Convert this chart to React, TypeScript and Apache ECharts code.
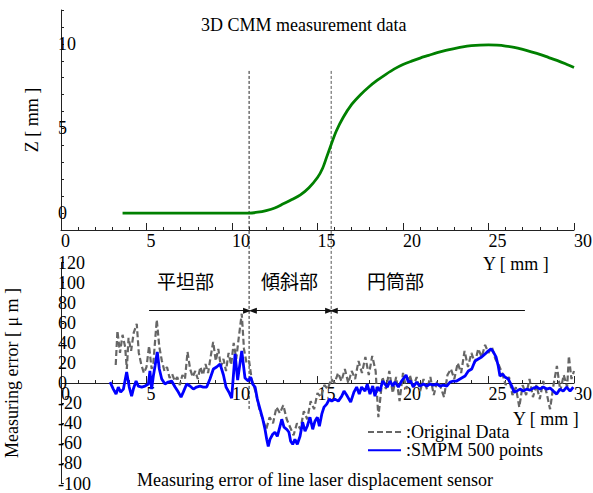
import React, { useEffect, useRef } from "react";
import * as echarts from "echarts";

// ---- Data ----
const cmmY = [3.6, 5, 7, 9, 10, 11, 11.5, 12, 12.5, 13, 13.5, 14, 14.5, 15, 15.3, 15.55, 15.8, 16.1, 16.5, 17, 17.5, 18, 18.5, 19, 19.5, 20, 20.5, 21, 21.5, 22, 22.5, 23, 23.5, 24, 24.5, 25, 25.5, 26, 26.5, 27, 27.5, 28, 28.5, 29, 29.5, 30];
const cmmZ = [0, 0, 0, 0, 0, 0, 0.05, 0.15, 0.3, 0.55, 0.8, 1.08, 1.5, 2.1, 2.65, 3.35, 4.05, 4.85, 5.65, 6.42, 6.98, 7.45, 7.85, 8.2, 8.52, 8.78, 8.98, 9.16, 9.32, 9.48, 9.61, 9.72, 9.82, 9.89, 9.93, 9.94, 9.92, 9.87, 9.79, 9.67, 9.53, 9.38, 9.2, 9.02, 8.82, 8.6];

const origY = [3.2, 3.3, 3.45, 3.6, 3.75, 3.85, 3.95, 4.1, 4.25, 4.43, 4.55, 4.7, 4.85, 5.0, 5.15, 5.3, 5.4, 5.6, 5.75, 5.9, 6.05, 6.2, 6.35, 6.5, 6.65, 6.8, 6.95, 7.1, 7.25, 7.4, 7.55, 7.7, 7.85, 8.0, 8.15, 8.3, 8.45, 8.6, 8.75, 8.9, 9.05, 9.2, 9.35, 9.5, 9.65, 9.8, 9.95, 10.1, 10.25, 10.4, 10.57, 10.7, 10.85, 11.0, 11.15, 11.4, 11.6, 11.8, 12.0, 12.2, 12.4, 12.6, 12.8, 13.0, 13.2, 13.4, 13.6, 13.8, 14.0, 14.2, 14.4, 14.6, 14.8, 15.0, 15.2, 15.4, 15.6, 15.8, 16.0, 16.2, 16.4, 16.6, 16.8, 17.0, 17.2, 17.4, 17.6, 17.8, 18.0, 18.2, 18.4, 18.56, 18.8, 19.0, 19.2, 19.4, 19.6, 19.8, 20.0, 20.2, 20.4, 20.6, 20.8, 21.0, 21.2, 21.4, 21.6, 21.8, 22.0, 22.2, 22.4, 22.6, 22.8, 23.0, 23.2, 23.4, 23.6, 23.8, 24.0, 24.2, 24.4, 24.6, 24.8, 25.0, 25.2, 25.4, 25.6, 25.8, 26.0, 26.2, 26.4, 26.6, 26.8, 27.0, 27.2, 27.4, 27.6, 27.8, 28.0, 28.2, 28.4, 28.6, 28.8, 29.0, 29.2, 29.4, 29.6, 29.7, 29.85, 30.0];
const origErr = [18, 52, 30, 48, 36, 14, 45, 32, 50, 59, 30, 18, 10, 16, 37, 14, 20, 63, 36, 22, 12, 16, 5, 9, 2, 6, -2, 8, 4, 31, 14, 6, 12, 4, 16, 8, 19, 10, 26, 41, 22, 34, 16, 24, 12, 30, 18, 40, 24, 46, 69, 34, 20, 22, 4, -10, -26, -36, -46, -34, -40, -24, -30, -22, -36, -44, -52, -40, -46, -28, -36, -18, -26, -10, -14, -2, -6, 4, 0, 10, 2, 14, 0, 12, 4, 22, 10, 26, 8, 27, 12, -34, 6, -6, 12, -10, 6, -18, 10, -6, 8, -4, 6, -8, 4, -6, 6, -12, 2, -4, -14, 8, 14, 4, 20, 10, 32, 16, 30, 20, 34, 26, 38, 30, 36, 24, 18, 10, -2, 6, -12, -4, -24, -2, -12, 4, -14, -2, -16, 2, -10, -26, -2, 17, -8, 8, -4, 27, 4, 12];

const smpmY = [2.87, 3.06, 3.22, 3.35, 3.49, 3.65, 3.84, 3.99, 4.13, 4.23, 4.39, 4.52, 4.72, 4.91, 5.11, 5.2, 5.3, 5.4, 5.5, 5.63, 5.75, 5.89, 6.08, 6.27, 6.47, 6.67, 6.86, 7.02, 7.15, 7.35, 7.54, 7.74, 7.93, 8.13, 8.32, 8.52, 8.71, 8.91, 9.1, 9.3, 9.5, 9.65, 9.85, 9.98, 10.18, 10.33, 10.57, 10.76, 10.95, 11.09, 11.21, 11.35, 11.48, 11.64, 11.8, 11.93, 12.03, 12.12, 12.22, 12.38, 12.51, 12.65, 12.81, 12.91, 13.04, 13.2, 13.33, 13.43, 13.55, 13.68, 13.82, 13.98, 14.13, 14.27, 14.4, 14.56, 14.72, 14.85, 14.99, 15.11, 15.25, 15.38, 15.54, 15.69, 15.83, 16.02, 16.22, 16.42, 16.55, 16.74, 16.94, 17.13, 17.29, 17.44, 17.58, 17.78, 17.91, 18.07, 18.23, 18.36, 18.5, 18.65, 18.81, 18.95, 19.08, 19.24, 19.4, 19.53, 19.73, 19.92, 20.18, 20.31, 20.45, 20.6, 20.8, 20.99, 21.19, 21.39, 21.58, 21.77, 21.97, 22.16, 22.36, 22.56, 22.75, 22.94, 23.14, 23.33, 23.63, 23.82, 24.02, 24.21, 24.4, 24.6, 24.8, 24.99, 25.15, 25.28, 25.44, 25.57, 25.67, 25.83, 25.96, 26.16, 26.36, 26.49, 26.65, 26.84, 27.04, 27.23, 27.43, 27.62, 27.82, 28.01, 28.2, 28.4, 28.6, 28.79, 28.99, 29.18, 29.37, 29.57, 29.77, 29.96];
const smpmErr = [1, -6, -11, -4, -9, -6, 11, -4, -13, -6, 2, -3, -4, -3, -1, 12, -6, 7, 17, 31, 14, 4, -1, 1, 2, -4, -9, -14, -9, -1, -3, -6, -4, -3, -4, -4, 4, 14, 16, 19, 8, -4, -10, -15, 29, 3, 32, 5, 2, 6, -1, -4, -16, -26, -36, -46, -56, -63, -56, -51, -49, -53, -43, -36, -44, -46, -49, -58, -61, -56, -61, -53, -39, -48, -43, -34, -46, -38, -34, -43, -31, -24, -21, -16, -18, -16, -18, -13, -8, -13, -19, -9, -4, -11, -4, -8, -1, -11, -3, -13, -4, -8, 2, -1, -4, 2, -3, 1, -4, 2, 8, 1, 2, -4, 1, -3, -1, -3, -1, -2, -1, -3, -2, -3, 1, 2, 2, 4, 7, 12, 14, 22, 24, 26, 29, 32, 34, 31, 26, 17, 7, 9, 6, 4, -3, -9, -8, -6, -8, -6, -7, -5, -4, -6, -4, -6, -5, -8, -11, -6, -8, -4, -8, -4];

// section arrows (Y range) at an error level, and section labels
const arrowFrom = [5.15, 11.22, 15.95];
const arrowTo = [10.88, 15.68, 27.13];
const arrowStartSym = ["none", "triangle", "triangle"];
const arrowEndSym = ["triangle", "triangle", "none"];
const arrowLevel = 72;
const sectionNames = ["平坦部", "傾斜部", "円筒部"];
const boundaryY = [11.0, 15.8];

const SERIF = '"Liberation Serif", "Times New Roman", serif';
const CJK = '"Noto Sans CJK JP", "Noto Sans CJK SC", sans-serif';
const AXIS_COLOR = "#222";

export default function App() {
  const ref = useRef<HTMLDivElement>(null);
  useEffect(() => {
    const chart = echarts.init(ref.current!, undefined, { renderer: "svg" });
    const zip = (a: number[], b: number[]) => a.map((v, i) => [v, b[i]]);
    const xAxisBase = (grid: number, show: boolean) => ({
      gridIndex: grid,
      show,
      type: "value",
      min: 0,
      max: 30,
      interval: 5,
      axisLine: { onZero: false, lineStyle: { color: AXIS_COLOR, width: 1 } },
      axisTick: { inside: true, length: 7, lineStyle: { color: AXIS_COLOR } },
      minorTick: { show: true, splitNumber: 5, length: 3, lineStyle: { color: AXIS_COLOR } },
      splitLine: { show: false },
      minorSplitLine: { show: false },
      axisLabel: { align: "left", margin: 2, color: "#000", fontSize: 18, fontFamily: SERIF },
    });
    const option: any = {
      animation: false,
      backgroundColor: "#fff",
      textStyle: { fontFamily: SERIF },
      grid: [
        { left: 61, top: 10, width: 513, height: 220, outerBoundsMode: "none" },
        { left: 61, top: 262.5, width: 513, height: 221, outerBoundsMode: "none" },
        // carries the bottom chart's Y axis along its zero level
        { left: 61, top: 262.5, width: 513, height: 120.55, outerBoundsMode: "none" },
      ],
      xAxis: [xAxisBase(0, true), xAxisBase(1, false), xAxisBase(2, true)],
      yAxis: [
        {
          gridIndex: 0,
          type: "value",
          min: -1,
          max: 12,
          interval: 1,
          name: "Z [ mm ]",
          nameLocation: "middle",
          nameGap: 20,
          nameTextStyle: { fontSize: 18, fontFamily: SERIF, color: "#000" },
          axisLine: { onZero: false, lineStyle: { color: AXIS_COLOR } },
          axisTick: { inside: true, length: 3, lineStyle: { color: AXIS_COLOR } },
          splitLine: { show: false },
          axisLabel: {
            inside: true,
            margin: -3,
            color: "#000",
            fontSize: 18,
            fontFamily: SERIF,
            formatter: (v: number) => (v % 5 === 0 ? String(v) : ""),
          },
        },
        {
          gridIndex: 1,
          type: "value",
          min: -100,
          max: 120,
          interval: 20,
          name: "Measuring error [ μ m ]",
          nameLocation: "middle",
          nameGap: 40,
          nameTextStyle: { fontSize: 18, fontFamily: SERIF, color: "#000" },
          axisLine: { onZero: false, lineStyle: { color: AXIS_COLOR } },
          axisTick: { inside: true, length: 3, lineStyle: { color: AXIS_COLOR } },
          splitLine: { show: false },
          axisLabel: { inside: true, margin: -3, color: "#000", fontSize: 18, fontFamily: SERIF },
        },
        { gridIndex: 2, type: "value", min: 0, max: 1, show: false },
      ],
      legend: {
        left: 362,
        top: 418,
        orient: "vertical",
        itemWidth: 33,
        itemHeight: 14,
        itemGap: 0.3,
        formatter: ":{name}",
        itemStyle: { color: "rgba(0,0,0,0)", borderWidth: 0, borderColor: "rgba(0,0,0,0)" },
        textStyle: { fontSize: 18, lineHeight: 18, fontFamily: SERIF, color: "#000" },
        data: ["Original Data", "SMPM 500 points"],
      },
      series: [
        {
          name: "CMM",
          type: "line",
          xAxisIndex: 0,
          yAxisIndex: 0,
          data: zip(cmmY, cmmZ),
          symbol: "none",
          smooth: 0.3,
          lineStyle: { color: "#008000", width: 2.8 },
          itemStyle: { color: "#008000" },
        },
        {
          name: "Original Data",
          type: "line",
          xAxisIndex: 1,
          yAxisIndex: 1,
          data: zip(origY, origErr),
          symbol: "none",
          lineStyle: { color: "#666", width: 2.2, type: [6, 3] },
          itemStyle: { color: "#666" },
          markLine: {
            silent: true,
            symbolSize: [6, 8],
            lineStyle: { color: "#111", width: 1, type: "solid" },
            label: { show: false },
            data: arrowFrom.map((f, i) => [
              { coord: [f, arrowLevel], symbol: arrowStartSym[i] },
              { coord: [arrowTo[i], arrowLevel], symbol: arrowEndSym[i] },
            ]),
          },
        },
        {
          name: "SMPM 500 points",
          type: "line",
          xAxisIndex: 1,
          yAxisIndex: 1,
          data: zip(smpmY, smpmErr),
          symbol: "none",
          lineStyle: { color: "#0000ff", width: 2.8 },
          itemStyle: { color: "#0000ff" },
        },
      ],
    };
    chart.setOption(option);

    const p0 = (x: number, y: number) => chart.convertToPixel({ xAxisIndex: 0, yAxisIndex: 0 }, [x, y]) as number[];
    const p1 = (x: number, y: number) => chart.convertToPixel({ xAxisIndex: 1, yAxisIndex: 1 }, [x, y]) as number[];
    const dashEnds = [-27, 0];
    const dashColors = ["#222", "#555"];
    const graphics: any[] = boundaryY.map((b, i) => {
      const a = p0(b, 8.4);
      const c = p1(b, dashEnds[i]);
      return {
        type: "line",
        silent: true,
        shape: { x1: a[0], y1: a[1], x2: c[0], y2: c[1] },
        style: { stroke: dashColors[i], lineWidth: 1, lineDash: [3, 2] },
        z: 1,
      };
    });
    const txt = (text: string, x: number, y: number, font = SERIF, size = 18) => ({
      type: "text",
      x,
      y,
      silent: true,
      style: { text, fill: "#000", fontSize: size, fontFamily: font, verticalAlign: "middle", align: "left" },
    });
    graphics.push(txt("3D CMM measurement data", 201, 24.5));
    graphics.push(txt("Y [ mm ]", 483, 264));
    graphics.push(txt("Y [ mm ]", 513, 419));
    graphics.push(txt("Measuring error of line laser displacement sensor", 137, 479.5));
    const sectionLeft = [157, 261, 367];
    sectionNames.forEach((s, i) => graphics.push(txt(s, sectionLeft[i], 280, CJK, 19)));
    chart.setOption({ graphic: graphics });

    return () => chart.dispose();
  }, []);
  return (
    <div
      ref={ref}
      style={{ position: "absolute", left: 0, top: 0, width: 593, height: 493, background: "#fff" }}
    />
  );
}
